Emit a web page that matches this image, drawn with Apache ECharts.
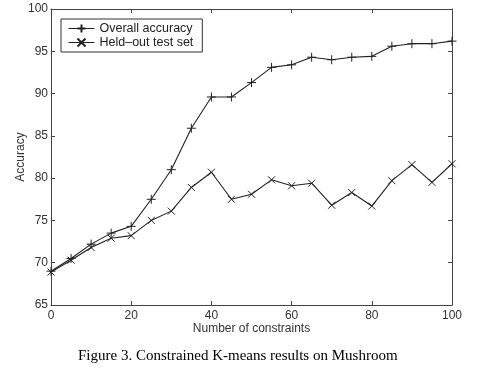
<!DOCTYPE html>
<html>
<head>
<meta charset="utf-8">
<script src="https://cdn.jsdelivr.net/npm/echarts@6/dist/echarts.min.js"></script>
<style>
html,body{margin:0;padding:0;background:#fff;}
#chart{width:503px;height:373px;}
</style>
</head>
<body>
<div id="chart"></div>
<script>
const constraints = [0,5,10,15,20,25,30,35,40,45,50,55,60,65,70,75,80,85,90,95,100];
const overallAccuracy = [69.0,70.5,72.2,73.5,74.3,77.5,81.0,85.9,89.6,89.6,91.3,93.1,93.4,94.3,94.0,94.3,94.4,95.6,95.9,95.9,96.2];
const heldOutTestSet = [68.9,70.3,71.8,72.9,73.2,75.0,76.1,78.9,80.7,77.5,78.1,79.8,79.1,79.4,76.8,78.3,76.7,79.7,81.6,79.5,81.7];
const seriesNames = ['Overall accuracy','Held\u2013out test set'];
const caption = 'Figure 3. Constrained K-means results on Mushroom';

const pairs = (xs, ys) => xs.map((x,i)=>[x, ys[i]]);
const plusPath = 'path://M0,5L10,5M5,0L5,10';
const crossPath = 'path://M0,0L10,10M10,0L0,10';
const axisColor = '#444';
const lab = {color:'#333', fontFamily:'Liberation Sans, Arial, sans-serif', fontSize:12};

const chart = echarts.init(document.getElementById('chart'), null, {renderer:'canvas'});
chart.setOption({
  animation:false,
  backgroundColor:'#fff',
  title:{
    text:caption, left:78, top:349, padding:0,
    textStyle:{fontFamily:'Liberation Serif, Times New Roman, serif', fontSize:15, fontWeight:'normal', color:'#000'}
  },
  grid:{left:51,right:51,top:9,bottom:68},
  legend:{
    left:61, top:19, orient:'vertical', itemGap:1, itemWidth:26, itemHeight:10,
    borderColor:'#333', borderWidth:1, padding:[3,9,3,7],
    backgroundColor:'#fff',
    lineStyle:{width:1},
    textStyle:{color:'#222', fontFamily:'Liberation Sans, Arial, sans-serif', fontSize:12.5},
    data:seriesNames
  },
  xAxis:[{
    type:'value', min:0, max:100, interval:20,
    name:'Number of constraints', nameLocation:'middle', nameGap:18, nameMoveOverlap:false,
    nameTextStyle:Object.assign({verticalAlign:'top'}, lab),
    axisLine:{show:true, lineStyle:{color:axisColor,width:1}},
    axisTick:{show:true, inside:true, length:4, lineStyle:{color:axisColor}},
    axisLabel:Object.assign({margin:5}, lab),
    splitLine:{show:false}
  },{
    type:'value', min:0, max:100, interval:20, position:'top',
    axisLine:{show:true, onZero:false, lineStyle:{color:axisColor,width:1}},
    axisTick:{show:true, inside:true, length:4, lineStyle:{color:axisColor}},
    axisLabel:{show:false}, splitLine:{show:false}
  }],
  yAxis:[{
    type:'value', min:65, max:100, interval:5,
    name:'Accuracy', nameLocation:'middle', nameGap:24, nameMoveOverlap:false,
    nameTextStyle:lab,
    axisLine:{show:true, lineStyle:{color:axisColor,width:1}},
    axisTick:{show:true, inside:true, length:4, lineStyle:{color:axisColor}},
    axisLabel:Object.assign({margin:3}, lab),
    splitLine:{show:false}
  },{
    type:'value', min:65, max:100, interval:5, position:'right',
    axisLine:{show:true, onZero:false, lineStyle:{color:axisColor,width:1}},
    axisTick:{show:true, inside:true, length:4, lineStyle:{color:axisColor}},
    axisLabel:{show:false}, splitLine:{show:false}
  }],
  series:[{
    name:seriesNames[0], type:'line', data:pairs(constraints, overallAccuracy),
    symbol:plusPath, symbolSize:9, showAllSymbol:true,
    lineStyle:{color:'#222', width:1.1},
    itemStyle:{color:'#222', borderColor:'#222', borderWidth:1}
  },{
    name:seriesNames[1], type:'line', data:pairs(constraints, heldOutTestSet),
    symbol:crossPath, symbolSize:7, showAllSymbol:true,
    lineStyle:{color:'#222', width:1.1},
    itemStyle:{color:'#222', borderColor:'#222', borderWidth:1}
  }]
});
</script>
</body>
</html>
